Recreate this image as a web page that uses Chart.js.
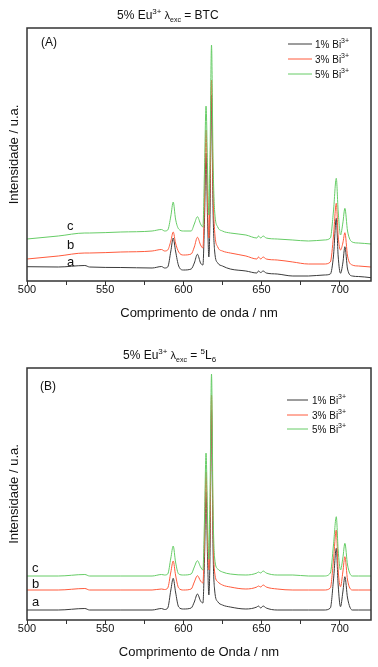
<!DOCTYPE html>
<html><head><meta charset="utf-8">
<script src="https://cdn.jsdelivr.net/npm/chart.js@4/dist/chart.umd.min.js"></script>
<style>
html,body{margin:0;padding:0;background:#fff;width:378px;height:667px;overflow:hidden}
.p{position:absolute;left:0;width:378px}
#wa{top:0;height:333px}
#wb{top:333px;height:334px}
</style></head><body>
<div class="p" id="wa"><canvas id="ca"></canvas></div>
<div class="p" id="wb"><canvas id="cb"></canvas></div>
<script>
// ---------- data ----------
const wavelengths = [500,520,537,540,560,580,586,588,590,592,593.5,595,597,600,605,607,609,611,612.5,613.5,614.5,615.5,616.3,617,618,619,620,622,625,630,640,647,648,649.5,651,653,660,670,680,690,694,696,697.8,699,700.5,702,703.3,705,708,712,720];

// Panel A (lambda exc = BTC)
const a_bi1 = [14.3,14,15.5,14,13.5,13,14.5,13,14,30,43,30,15,11,12,18,26.7,18,16,60,128,60,24,60,186,70,30,18,15,12,10,8,10,8.5,10,8,7,5,5,6,7,25,62.7,25,7.7,18,34.3,12,5,4.5,3.3];
const a_bi3 = [22,25,28,28,29,30,31.5,30,31,40,49,38,29,26,27,34,43.7,36,33,80,151,80,43,90,201,90,50,34,30,28,25,22,24,22,24,22,21,19,17,17,19,45,77.7,45,31,38,48.3,25,16,15,14];
const a_bi5 = [42,45,48,48,49,50,51.5,50,51,65,79,62,52,50,50,57,64.3,57,54,110,175,110,66,120,236,120,70,54,50,48,46,43,45,43,45,43,42,41,40,41,43,70,102.7,70,46,58,72.7,50,39,38,37];

// Panel B (lambda exc = 5L6)
const b_bi1 = [10,10,11.5,10,10,10,11.5,10.5,12,30,41.7,28,13,11,12,18,26,19,17,60,128,60,25,60,210,70,30,18.3,15,13,11,13,14,12,14,12,10,10,10,10,12,40,71.7,35,13.3,28,43.3,22,10,10,10];
const b_bi3 = [30,30,31.5,30,30,30,31,30.5,32,48,59,45,32,30,31,38,44.3,39,37,80,148,80,50,90,225,90,48,38.3,35,33,31,33,34,33,35,33,31,30,30,30,32,60,90,50,33.3,48,63.3,40,30,30,30];
const b_bi5 = [44,44,45.5,44,44,44,45.5,45,46,62,74,58,46,45,46,53,59.3,53,50,100,167,100,60.7,120,246,110,62,51,48,46,45,47,48,47,49,47,45,45,44,44,47,75,103.3,70,50,62,76.7,55,44,44,44];

const seriesLabels = ['1% Bi','3% Bi','5% Bi'];
const seriesSup = '3+';
const seriesColors = ['#3a3a3a','#ff5a3c','#66cc66'];
const curveLetters = ['a','b','c'];
const xTickValues = [500,525,550,575,600,625,650,675,700];
const xTitleA = 'Comprimento de onda / nm';
const xTitleB = 'Comprimento de Onda / nm';
const yTitle = 'Intensidade / u.a.';
const panelTags = ['(A)','(B)'];

const FONT = '"Liberation Sans", Arial, sans-serif';

function mk(vals){ return wavelengths.map((w,i)=>({x:w,y:vals[i]})); }

function drawRich(ctx, x, y, parts){
  let cx = x;
  for (const p of parts){
    ctx.font = p.s + 'px ' + FONT;
    ctx.fillText(p.t, cx, y + (p.dy||0));
    cx += ctx.measureText(p.t).width;
  }
}

function makePlugin(cfg){
  return {
    id:'deco',
    afterDraw(chart){
      const ctx = chart.ctx, ca = chart.chartArea;
      ctx.save();
      ctx.strokeStyle = '#333'; ctx.lineWidth = 1.5;
      ctx.strokeRect(ca.left, ca.top, ca.right-ca.left, ca.bottom-ca.top);
      ctx.fillStyle = '#111';
      ctx.textBaseline = 'alphabetic'; ctx.textAlign = 'left';
      drawRich(ctx, cfg.titleX, cfg.titleY, cfg.title);
      ctx.font = '12px ' + FONT;
      ctx.fillText(cfg.tag, cfg.tagX, cfg.tagY);
      ctx.font = '13px ' + FONT;
      curveLetters.forEach((l,i)=>ctx.fillText(l, cfg.letX, cfg.letY[i]));
      chart.data.datasets.forEach((ds,i)=>{
        const y = cfg.legY[i];
        ctx.strokeStyle = ds.borderColor; ctx.lineWidth = 1;
        ctx.beginPath(); ctx.moveTo(cfg.legX0, y); ctx.lineTo(cfg.legX1, y); ctx.stroke();
        ctx.fillStyle = '#111';
        drawRich(ctx, cfg.legTX, y+3.5, [{t:seriesLabels[i], s:10},{t:seriesSup, s:7, dy:-4.5}]);
      });
      ctx.font = '13px ' + FONT; ctx.textAlign = 'center';
      ctx.fillText(cfg.xTitle, (ca.left+ca.right)/2, cfg.xTitleY);
      ctx.translate(cfg.yTitleX, (ca.top+ca.bottom)/2);
      ctx.rotate(-Math.PI/2);
      ctx.textBaseline = 'middle';
      ctx.fillText(yTitle, 0, 0);
      ctx.restore();
    }
  };
}

function makeChart(id, data, yMax, padTop, xH, cfg){
  return new Chart(document.getElementById(id), {
    type:'line',
    data:{ datasets: data.map((d,i)=>({
      label: seriesLabels[i]+seriesSup, data: mk(d), borderColor: seriesColors[i],
      borderWidth: 1, pointRadius: 0, cubicInterpolationMode:'monotone', order: 3-i
    })) },
    options:{
      responsive:true, maintainAspectRatio:false, animation:false,
      layout:{ padding:{top:padTop, right:7, left:0, bottom:0} },
      plugins:{ legend:{display:false}, tooltip:{enabled:false}, title:{display:false} },
      scales:{
        x:{ type:'linear', min:500, max:720,
            afterBuildTicks: s => { s.ticks = xTickValues.map(v=>({value:v})); },
            afterFit: s => { s.height = xH; },
            ticks:{ autoSkip:false, maxRotation:0, padding:-2, color:'#111',
                    font:{family:FONT, size:11},
                    callback: v => (v % 50 === 0 ? String(v) : '') },
            grid:{ display:true, drawOnChartArea:false, drawTicks:true, tickLength:4, color:'#333', lineWidth:1 },
            border:{ display:false } },
        y:{ min:0, max:yMax,
            afterFit: s => { s.width = 27; },
            ticks:{ display:false }, grid:{ display:false }, border:{ display:false } }
      }
    },
    plugins:[makePlugin(cfg)]
  });
}

makeChart('ca', [a_bi1,a_bi3,a_bi5], 253, 28, 52, {
  title:[{t:'5% Eu',s:12},{t:'3+',s:8,dy:-5},{t:' λ',s:11},{t:'exc',s:7,dy:3},{t:' = BTC',s:12}],
  titleX:117, titleY:18.5,
  tag:panelTags[0], tagX:41, tagY:45.5,
  letX:67, letY:[265.5,249,230],
  legX0:288, legX1:312, legTX:315, legY:[44,59,74],
  xTitle:xTitleA, xTitleY:316.5, yTitleX:14
});

makeChart('cb', [b_bi1,b_bi3,b_bi5], 252, 35, 47, {
  title:[{t:'5% Eu',s:12},{t:'3+',s:8,dy:-5},{t:' λ',s:11},{t:'exc',s:7,dy:3},{t:' = ',s:12},{t:'5',s:8,dy:-5},{t:'L',s:12},{t:'6',s:8,dy:3}],
  titleX:123, titleY:26.3,
  tag:panelTags[1], tagX:40, tagY:57,
  letX:32, letY:[273,255.3,238.7],
  legX0:287, legX1:308, legTX:312, legY:[67,82,96],
  xTitle:xTitleB, xTitleY:323, yTitleX:14
});
</script>
</body></html>
